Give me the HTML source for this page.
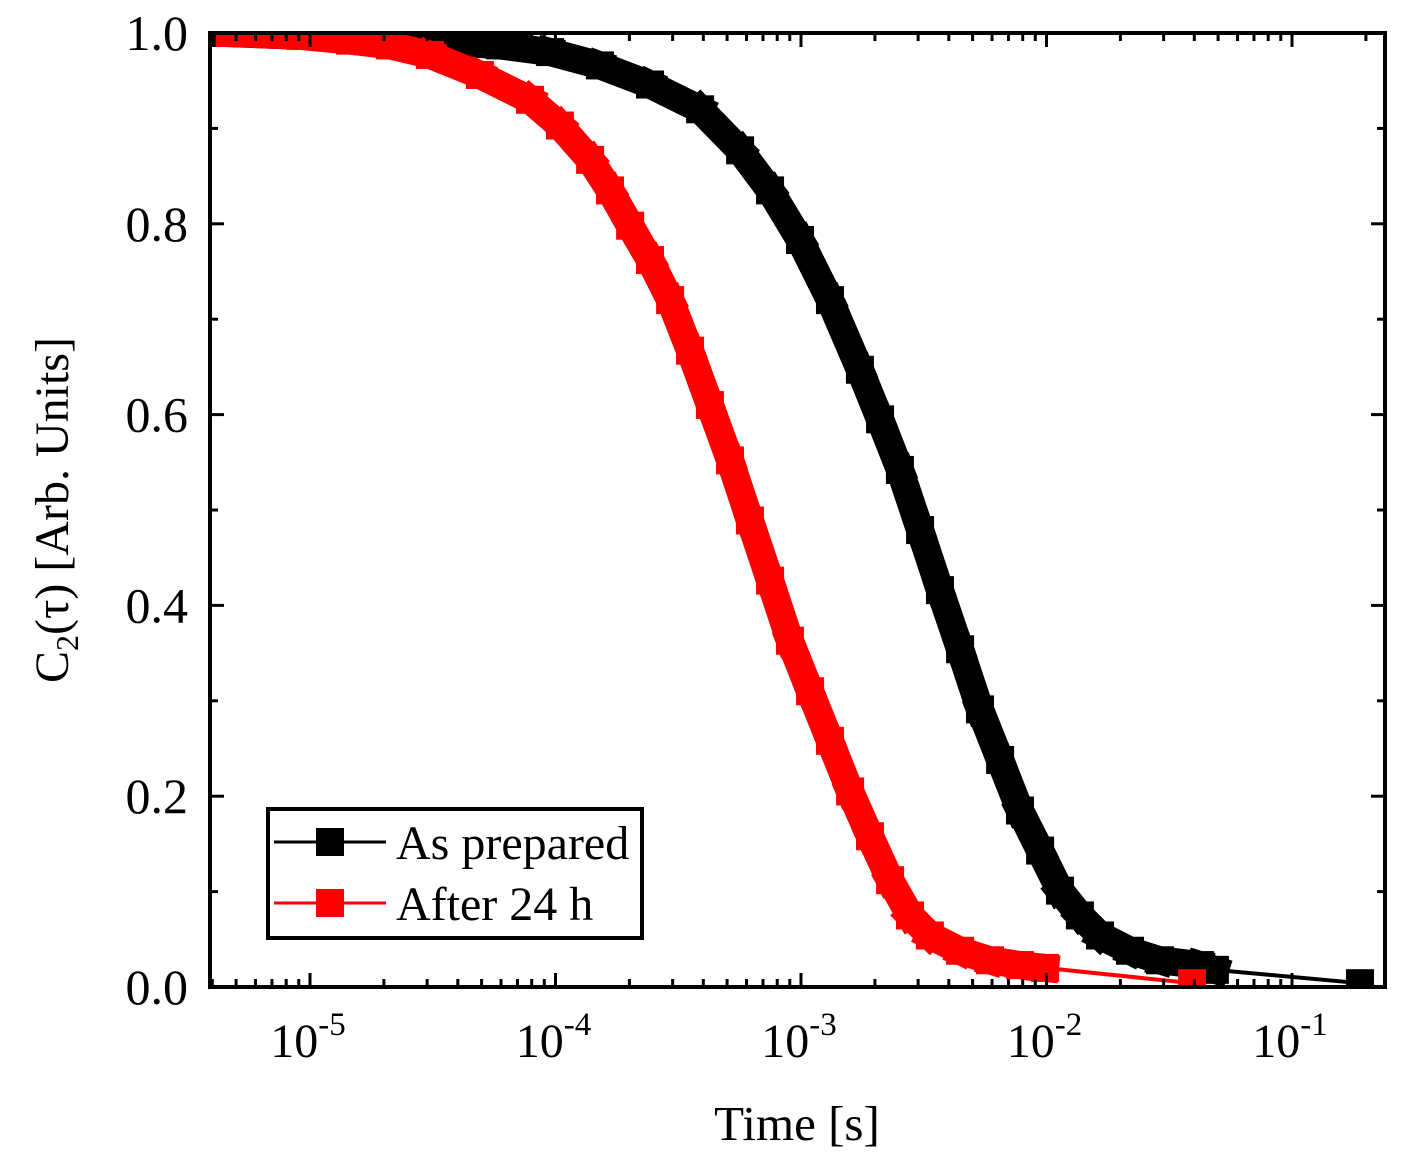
<!DOCTYPE html>
<html><head><meta charset="utf-8"><style>
html,body{margin:0;padding:0;background:#fff}
svg{display:block;font-family:"Liberation Serif",serif}
</style></head><body>
<svg id="chart" width="1408" height="1168" viewBox="0 0 1408 1168" xmlns="http://www.w3.org/2000/svg">
<g id="marks"></g>
<g id="axes"></g>
<g>
  <rect x="268" y="809" width="374" height="129" fill="#fff" stroke="#000" stroke-width="4"/>
  <g>
    <line x1="274" y1="842" x2="386" y2="842" stroke="#000" stroke-width="3"/>
    <rect x="316" y="828" width="28" height="28" fill="#000"/>
    <text x="396" y="859" font-size="48" fill="#000">As prepared</text>
  </g>
  <g>
    <line x1="274" y1="903" x2="386" y2="903" stroke="#f00" stroke-width="3"/>
    <rect x="316" y="889" width="28" height="28" fill="#f00"/>
    <text x="396" y="920" font-size="48" fill="#000">After 24 h</text>
  </g>
</g>
<text x="797" y="1140" font-size="49" text-anchor="middle">Time [s]</text>
<text transform="translate(68,510) rotate(-90)" font-size="48" text-anchor="middle">C<tspan font-size="32" dy="10">2</tspan><tspan dy="-10">(τ) [Arb. Units]</tspan></text>
</svg>
<script>
const blackTimeExp=[-5.346,-4.633,-4.552,-4.226,-4.022,-3.819,-3.615,-3.411,-3.248,-3.126,-3.004,-2.882,-2.760,-2.678,-2.597,-2.515,-2.434,-2.352,-2.271,-2.189,-2.108,-2.026,-1.945,-1.864,-1.782,-1.660,-1.538,-1.375,-1.314,-0.723];
const blackValues=[1.0,0.993,0.993,0.987,0.980,0.966,0.946,0.920,0.877,0.835,0.783,0.720,0.647,0.595,0.542,0.479,0.416,0.354,0.291,0.238,0.185,0.143,0.101,0.075,0.054,0.038,0.028,0.023,0.018,0.004];
const redTimeExp=[-5.326,-5.041,-4.837,-4.674,-4.511,-4.308,-4.104,-3.982,-3.859,-3.778,-3.696,-3.615,-3.533,-3.452,-3.371,-3.289,-3.208,-3.126,-3.045,-2.963,-2.882,-2.800,-2.719,-2.637,-2.556,-2.475,-2.352,-2.230,-2.108,-2.006,-1.407];
const redValues=[1.0,0.997,0.992,0.987,0.977,0.956,0.930,0.903,0.867,0.835,0.798,0.762,0.720,0.667,0.610,0.552,0.489,0.426,0.363,0.310,0.258,0.205,0.158,0.112,0.075,0.054,0.038,0.028,0.023,0.020,0.004];
const yTickLabels=["0.0","0.2","0.4","0.6","0.8","1.0"];
const xTickExps=[-5,-4,-3,-2,-1];

const L=210,R=1385,T=33,B=987;
const xMin=-5.4073,xMax=-0.6212;
function xs(e){return L+(e-xMin)/(xMax-xMin)*(R-L);}
function ys(v){return B-v*(B-T);}
const NS="http://www.w3.org/2000/svg";
function mk(tag,attrs,parent){const el=document.createElementNS(NS,tag);for(const k in attrs)el.setAttribute(k,attrs[k]);parent.appendChild(el);return el;}
const marks=document.getElementById('marks'),axes=document.getElementById('axes');

function drawSeries(te,vals,color,name){
  const g=mk('g',{},marks);
  
  
  for(let i=1;i<te.length;i++){
    const x1=xs(te[i-1]),y1=ys(vals[i-1]),x2=xs(te[i]),y2=ys(vals[i]);
    const dense=i<te.length-1;
    const ln=mk('line',{x1:x1,y1:y1,x2:x2,y2:y2,stroke:color,'stroke-width':dense?28:4,'stroke-linecap':dense?'square':'butt'},g);
    
    
  }
  te.forEach((e,i)=>{
    const r=mk('rect',{x:xs(e)-14,y:ys(vals[i])-14,width:28,height:28,fill:color},g);
    
    
  });
}
drawSeries(blackTimeExp,blackValues,'#000','series-as-prepared');
drawSeries(redTimeExp,redValues,'#f00','series-after-24h');

const clipTop=mk('rect',{x:0,y:0,width:1408,height:T-2,fill:'#fff'},axes);


const clipBot=mk('rect',{x:0,y:B+2,width:1408,height:1168-B-2,fill:'#fff'},axes);



const frame=mk('rect',{x:L,y:T,width:R-L,height:B-T,fill:'none',stroke:'#000','stroke-width':4},axes);



for(let i=0;i<=10;i++){
  const v=i/10,y=ys(v),len=(i%2===0)?14:8;
  mk('line',{x1:L,y1:y,x2:L+len,y2:y,stroke:'#000','stroke-width':3},axes);
  mk('line',{x1:R,y1:y,x2:R-len,y2:y,stroke:'#000','stroke-width':3},axes);
}
yTickLabels.forEach((s,i)=>{
  const t=mk('text',{x:188,y:ys(i*0.2)+17,'font-size':50,'text-anchor':'end'},axes);
  t.textContent=s;
  
  
});
for(let d=-6;d<=0;d++){
  for(let m=1;m<10;m++){
    const e=d+Math.log10(m);
    if(e<xMin||e>xMax)continue;
    const x=xs(e),len=m===1?14:8;
    mk('line',{x1:x,y1:B,x2:x,y2:B-len,stroke:'#000','stroke-width':3},axes);
    mk('line',{x1:x,y1:T,x2:x,y2:T+len,stroke:'#000','stroke-width':3},axes);
  }
}
xTickExps.forEach(e=>{
  const t=mk('text',{x:xs(e)-2,y:1057,'font-size':48,'text-anchor':'middle'},axes);
  
  
  const a=document.createElementNS(NS,'tspan');a.textContent='10';t.appendChild(a);
  const b=document.createElementNS(NS,'tspan');b.setAttribute('font-size','33');b.setAttribute('dy','-22');b.textContent=(e<0?'-':'')+Math.abs(e);t.appendChild(b);
});
</script>
</body></html>
